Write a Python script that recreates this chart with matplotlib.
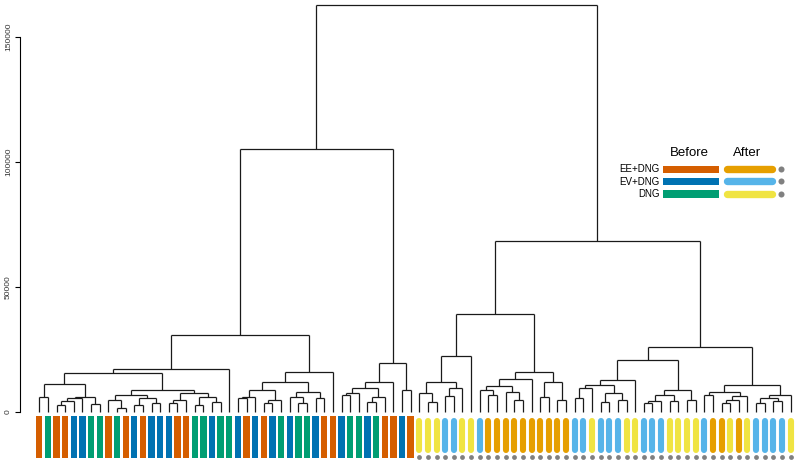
import matplotlib
matplotlib.use("Agg")
import matplotlib.pyplot as plt
from matplotlib.collections import LineCollection
from matplotlib.patches import Rectangle

plt.rcParams['font.family'] = ['Liberation Sans', 'DejaVu Sans']

# --- data ---
# group of each leaf, left to right (EE = EE+DNG, EV = EV+DNG, D = DNG)
before_groups = ["EE", "D", "EE", "EE", "EV", "EV", "D", "D", "EE", "D", "EE",
                 "EV", "EE", "EV", "EV", "EV", "EE", "EE", "D", "D", "EV", "D",
                 "D", "EV", "EE", "EV", "EE", "EV", "D", "EV", "D", "D", "EV",
                 "EE", "EE", "EV", "D", "D", "EV", "D", "EE", "EE", "EV", "EE"]
after_groups = ["D", "D", "D", "EV", "EV", "D", "D", "EV", "EE", "EE", "EE",
                "EE", "EE", "EE", "EE", "EE", "EE", "EE", "EV", "EV", "D", "EV",
                "EV", "EV", "D", "D", "EV", "EV", "EV", "D", "D", "D", "D", "EV",
                "EE", "EE", "D", "EE", "D", "EV", "EV", "EV", "EV", "D"]

legend_labels = ["EE+DNG", "EV+DNG", "DNG"]
before_colors = {"EE": "#D55E00", "EV": "#0072B2", "D": "#009E73"}
after_colors = {"EE": "#E69F00", "EV": "#56B4E9", "D": "#F0E442"}

# merge tree, leaves numbered left to right, "(a,b)h" with h in thousands
clust_a = ("(((1,2)6.1,((((3,4)3.0,5)4.5,6)5.6,(7,8)3.2)6.2)11.4,"
           "(((9,(10,11)1.7)4.8,((12,13)3.0,(14,15)3.5)5.5)7.0,"
           "(((16,17)3.5,18)5.0,((19,20)3.0,(21,22)4.0)6.0)7.5)8.8)15.5")
clust_b = ("(((((24,25)5.6,26)6.1,((27,28)3.5,29)5.0)8.8,"
           "((30,(31,32)3.5)6.1,(33,34)5.6)8.0)12.0,35)16.0")
clust_c = "(((((36,37)6.8,38)7.5,((39,40)4.0,41)6.1)9.5,42)12.1,(43,44)8.8)19.5"
clust_d = "(((45,(46,47)4.0)7.5,((48,49)6.5,50)9.5)12.1,51)22.4"
clust_e = ("((((52,(53,54)6.8)9.0,(55,(56,57)5.0)8.2)10.4,58)13.1,"
           "((59,60)6.1,(61,62)4.8)12.0)16.1")
clust_f = ("(((((63,64)5.5,65)9.5,((66,67)4.0,(68,69)5.0)7.5)10.8,70)13.0,"
           "((((71,72)3.5,73)4.5,(74,75)4.5)6.8,(76,77)5.0)8.8)20.8")
clust_g = ("(((78,79)6.8,(((80,81)3.5,82)5.0,83)6.5)8.1,"
           "(((84,85)3.5,(86,87)4.5)5.5,88)6.8)10.8")

left_tree = f"((({clust_a},23)17.2,{clust_b})30.8,{clust_c})105.2"
right_tree = f"(({clust_d},{clust_e})39.2,({clust_f},{clust_g})25.9)68.4"
tree_text = f"({left_tree},{right_tree})162.8"


def parse_tree(text):
    pos = 0

    def number():
        nonlocal pos
        start = pos
        while pos < len(text) and (text[pos].isdigit() or text[pos] == '.'):
            pos += 1
        return float(text[start:pos])

    def node():
        nonlocal pos
        if text[pos] == '(':
            pos += 1
            a = node()
            pos += 1  # ,
            b = node()
            pos += 1  # )
            return (a, b, number() * 1000)
        return int(number())

    return node()


segments = []


def layout(n):
    if isinstance(n, int):
        return n, 0.0
    a, b, h = n
    xa, ha = layout(a)
    xb, hb = layout(b)
    segments.append([(xa, ha), (xa, h)])
    segments.append([(xa, h), (xb, h)])
    segments.append([(xb, h), (xb, hb)])
    return (xa + xb) / 2, h


layout(parse_tree(tree_text))

# --- figure ---
fig = plt.figure(figsize=(8, 4.65), dpi=100)
ax = fig.add_axes([20 / 800, 0, 780 / 800, 1])
ax.set_xlim(-1.235, 89.09)
ax.set_ylim(-21200, 164800)

ax.add_collection(LineCollection(segments, colors="#1a1a1a", linewidths=0.9))

n_before = len(before_groups)
xb = list(range(1, n_before + 1))
ax.bar(xb, 16700, bottom=-18300, width=0.73,
       color=[before_colors[g] for g in before_groups], linewidth=0)

xa = list(range(n_before + 1, n_before + len(after_groups) + 1))
for x, g in zip(xa, after_groups):
    ax.plot([x, x], [-3400, -15200], color=after_colors[g], lw=4.4,
            solid_capstyle='round')
ax.scatter(xa, [-18150] * len(xa), s=12, color="#808080", linewidths=0)

for s in ["top", "right", "bottom"]:
    ax.spines[s].set_visible(False)
ax.spines["left"].set_bounds(0, 150000)
ax.spines["left"].set_linewidth(0.8)
ax.set_xticks([])
ticks = [0, 50000, 100000, 150000]
ax.set_yticks(ticks)
ax.set_yticklabels([str(t) for t in ticks], rotation=90, va='center',
                   fontsize=6, color="#333333")
ax.tick_params(axis='y', length=3.3, width=0.8, pad=2.5)

# --- legend (pixel coords overlay) ---
lax = fig.add_axes([0, 0, 1, 1])
lax.set_xlim(0, 800)
lax.set_ylim(465, 0)
lax.axis('off')
lax.text(689, 153, "Before", ha='center', va='center', fontsize=9.5)
lax.text(747.5, 153, "After", ha='center', va='center', fontsize=9.5)
row_y = [169.2, 181.5, 193.8]
for lab, key, y in zip(legend_labels, ["EE", "EV", "D"], row_y):
    lax.text(659.5, y, lab, ha='right', va='center', fontsize=7)
    lax.add_patch(Rectangle((662.7, y - 3.7), 56.6, 7.4,
                            color=before_colors[key], linewidth=0))
    lax.plot([727, 772.3], [y, y], color=after_colors[key], lw=5.3,
             solid_capstyle='round')
    lax.scatter([780.5], [y], s=19, color="#808080", linewidths=0)

fig.savefig("out.png", dpi=100)
